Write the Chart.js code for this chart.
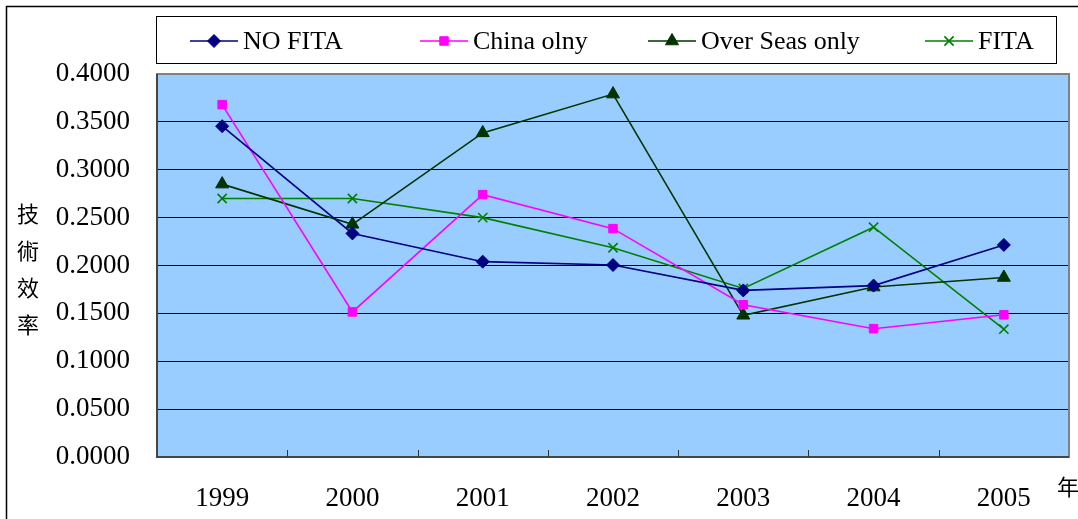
<!DOCTYPE html>
<html>
<head>
<meta charset="utf-8">
<script src="https://cdn.jsdelivr.net/npm/chart.js@4/dist/chart.umd.min.js"></script>
<style>
  html, body { margin: 0; padding: 0; background: #fff; }
  #wrap { width: 1078px; height: 519px; position: relative; }
</style>
</head>
<body>
<div id="wrap"><canvas id="c" width="1078" height="519"></canvas></div>
<script>
// Technical efficiency by year, four ownership groups
const years = ['1999', '2000', '2001', '2002', '2003', '2004', '2005'];
const noFita     = [0.3455, 0.2335, 0.2040, 0.2005, 0.1740, 0.1790, 0.2215];
const chinaOnly  = [0.3680, 0.1515, 0.2740, 0.2385, 0.1590, 0.1340, 0.1485];
const overSeas   = [0.2850, 0.2430, 0.3385, 0.3790, 0.1480, 0.1775, 0.1875];
const fita       = [0.2700, 0.2700, 0.2500, 0.2185, 0.1760, 0.2400, 0.1335];
const yTicks = { min: 0, max: 0.4, step: 0.05 };
const yTitle = '技術效率';
const xUnit = '年';

const serif = '"Liberation Serif", "Times New Roman", serif';
const cjk = '"Noto Sans CJK TC", "Noto Sans CJK SC", sans-serif';

function series(label, data, color, style, radius) {
  return {
    label, data,
    borderColor: color, backgroundColor: color,
    borderWidth: 1.6,
    pointStyle: style, pointRadius: radius, pointHoverRadius: radius,
    pointBorderColor: color, pointBackgroundColor: color,
    pointBorderWidth: style === 'crossRot' ? 1.6 : 1,
    tension: 0, fill: false
  };
}

const decor = {
  id: 'decor',
  beforeDraw(chart) {
    const { ctx, chartArea: a } = chart;
    ctx.save();
    ctx.fillStyle = '#ffffff';
    ctx.fillRect(0, 0, chart.width, chart.height);
    // outer frame
    ctx.strokeStyle = '#000';
    ctx.lineWidth = 1.5;
    ctx.beginPath();
    ctx.moveTo(6.5, chart.height);
    ctx.lineTo(6.5, 6.5);
    ctx.lineTo(chart.width, 6.5);
    ctx.stroke();
    // plot background
    ctx.fillStyle = '#99CCFF';
    ctx.fillRect(a.left, a.top, a.right - a.left, a.bottom - a.top);
    ctx.restore();
  },
  afterDatasetsDraw(chart) {
    const { ctx, chartArea: a } = chart;
    ctx.save();
    // plot frame
    ctx.strokeStyle = '#808080';
    ctx.lineWidth = 2;
    ctx.strokeRect(a.left, a.top, a.right - a.left, a.bottom - a.top);
    ctx.strokeStyle = '#333';
    ctx.lineWidth = 1.5;
    ctx.beginPath();
    ctx.moveTo(a.left, a.top); ctx.lineTo(a.left, a.bottom); ctx.lineTo(a.right, a.bottom);
    ctx.stroke();
    // category tick marks (inside)
    const n = years.length, w = (a.right - a.left) / n;
    ctx.strokeStyle = '#333';
    ctx.lineWidth = 1;
    for (let i = 1; i < n; i++) {
      const x = Math.round(a.left + i * w) + 0.5;
      ctx.beginPath(); ctx.moveTo(x, a.bottom); ctx.lineTo(x, a.bottom - 7); ctx.stroke();
    }
    // y axis title, stacked characters
    ctx.fillStyle = '#000';
    ctx.font = '22px ' + cjk;
    ctx.textAlign = 'center';
    ctx.textBaseline = 'middle';
    Array.from(yTitle).forEach((ch, i) => ctx.fillText(ch, 28, 214 + i * 37));
    // x unit
    ctx.fillText(xUnit, 1068, 487);

    // legend box
    ctx.strokeStyle = '#000';
    ctx.lineWidth = 1;
    ctx.fillStyle = '#fff';
    ctx.fillRect(156.5, 16.5, 900, 47);
    ctx.strokeRect(156.5, 16.5, 900, 47);
    const starts = [190, 420, 648, 925];
    const ly = 41;
    chart.data.datasets.forEach((ds, i) => {
      const x0 = starts[i];
      ctx.strokeStyle = ds.borderColor;
      ctx.fillStyle = ds.backgroundColor;
      ctx.lineWidth = 1.6;
      ctx.beginPath(); ctx.moveTo(x0, ly); ctx.lineTo(x0 + 48, ly); ctx.stroke();
      ctx.lineWidth = ds.pointBorderWidth;
      Chart.helpers.drawPoint(ctx, {
        pointStyle: ds.pointStyle, radius: ds.pointRadius, borderWidth: ds.pointBorderWidth, rotation: 0
      }, x0 + 24, ly);
      ctx.fillStyle = '#000';
      ctx.font = '26px ' + serif;
      ctx.textAlign = 'left';
      ctx.textBaseline = 'middle';
      ctx.fillText(ds.label, x0 + 53, ly + 1);
    });
    ctx.restore();
  }
};

new Chart(document.getElementById('c'), {
  type: 'line',
  data: {
    labels: years,
    datasets: [
      series('NO FITA', noFita, '#000080', 'rectRot', 6.5),
      series('China olny', chinaOnly, '#FF00FF', 'rect', 6),
      series('Over Seas only', overSeas, '#003300', 'triangle', 7.5),
      series('FITA', fita, '#008000', 'crossRot', 6.5)
    ]
  },
  options: {
    responsive: false,
    animation: false,
    devicePixelRatio: 1,
    layout: { padding: { top: 74, right: 9, left: 0, bottom: 0 } },
    plugins: { legend: { display: false }, tooltip: { enabled: false } },
    scales: {
      x: {
        offset: true,
        grid: { display: false, drawTicks: false },
        border: { display: false },
        ticks: { color: '#000', font: { family: serif, size: 27 }, padding: 26 },
        afterFit(s) { s.height = 62; }
      },
      y: {
        min: yTicks.min, max: yTicks.max,
        grid: { color: '#000', lineWidth: 1, drawTicks: false },
        border: { display: false },
        ticks: {
          stepSize: yTicks.step,
          color: '#000', font: { family: serif, size: 27 }, padding: 27,
          callback: v => Number(v).toFixed(4)
        },
        afterFit(s) { s.width = 157; }
      }
    }
  },
  plugins: [decor]
});
</script>
</body>
</html>
